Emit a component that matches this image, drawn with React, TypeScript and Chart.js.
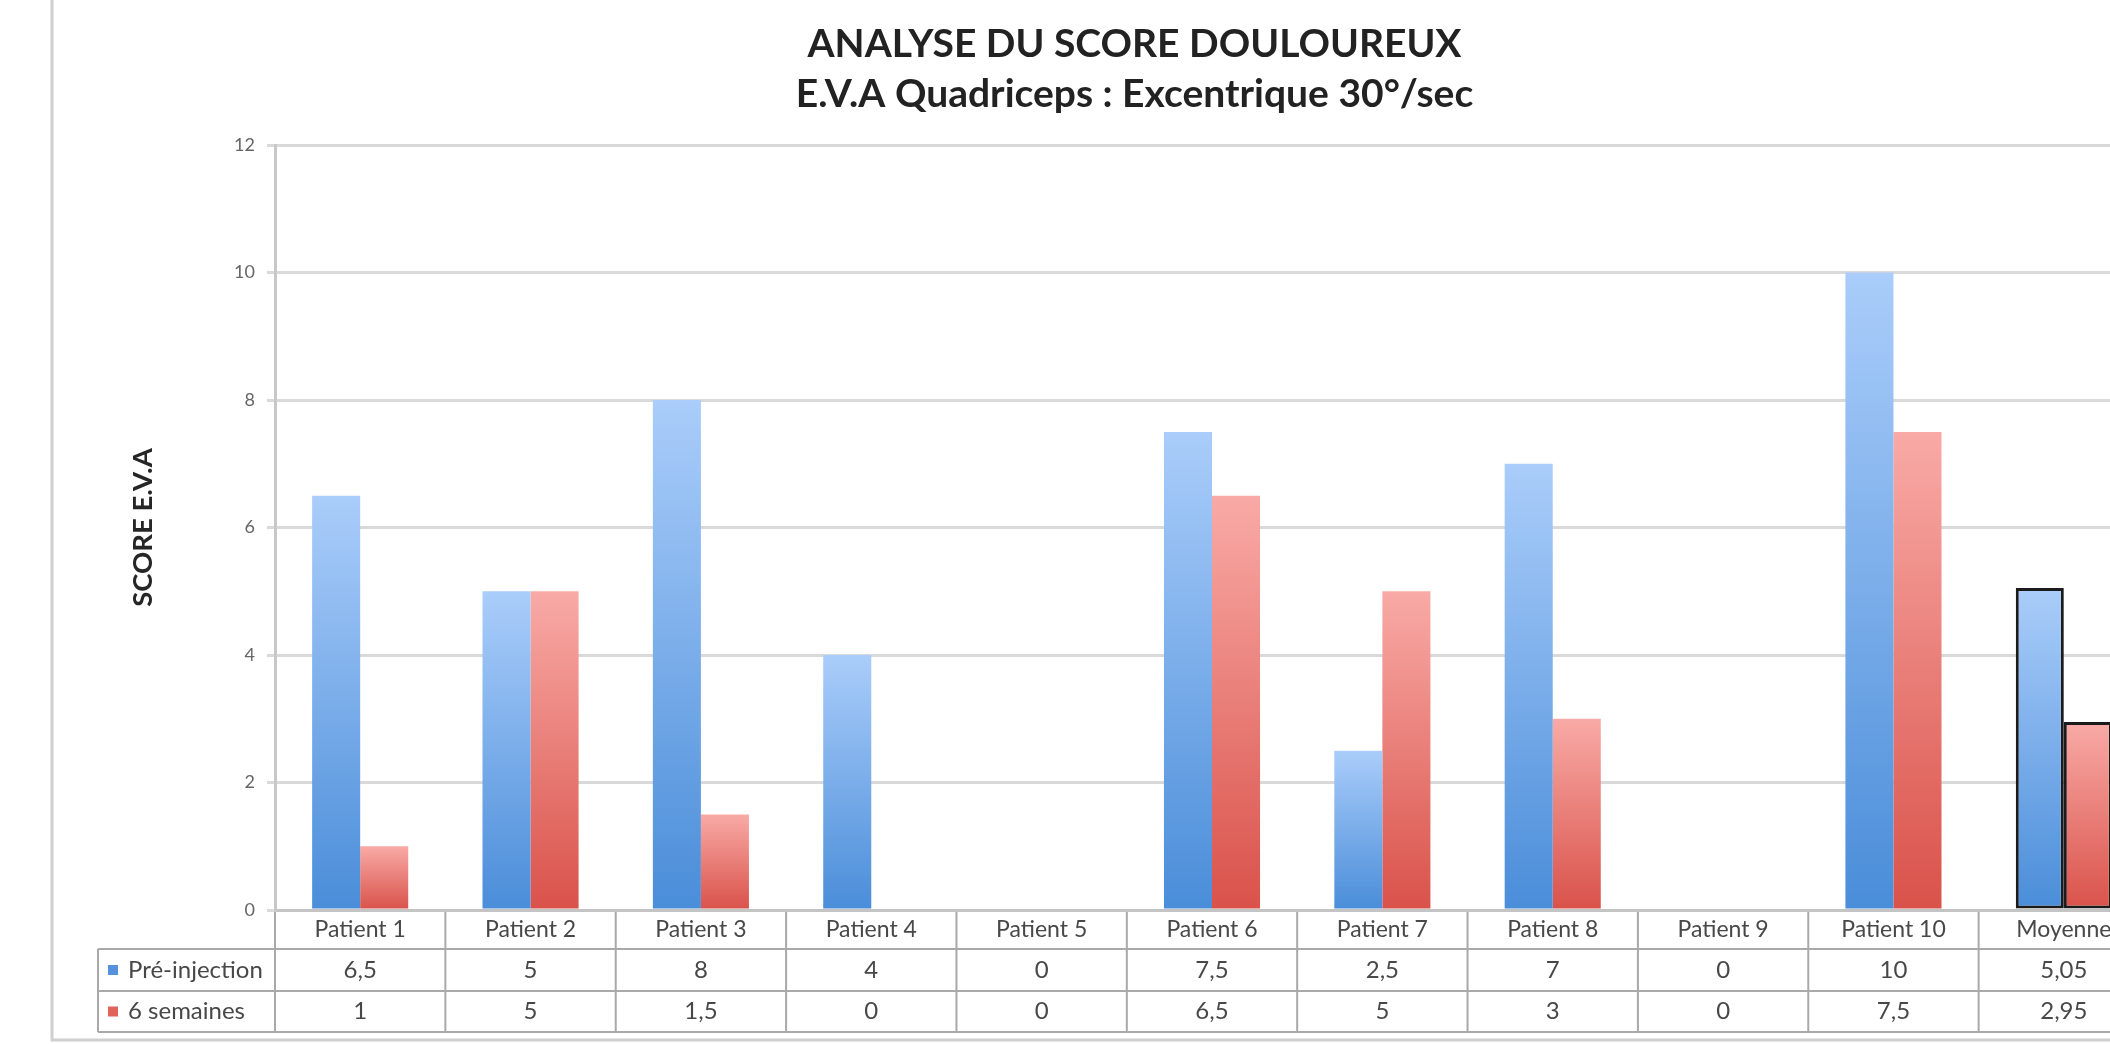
import React, { useEffect, useRef } from 'react';
import { Chart, registerables } from 'chart.js';

Chart.register(...registerables);

const categories = [
  'Patient 1', 'Patient 2', 'Patient 3', 'Patient 4', 'Patient 5', 'Patient 6',
  'Patient 7', 'Patient 8', 'Patient 9', 'Patient 10', 'Moyenne',
];
const preInjection = [6.5, 5, 8, 4, 0, 7.5, 2.5, 7, 0, 10, 5.05];
const sixSemaines = [1, 5, 1.5, 0, 0, 6.5, 5, 3, 0, 7.5, 2.95];
const seriesLabels = ['Pré-injection', '6 semaines'];
const titleLines = ['ANALYSE DU SCORE DOULOUREUX', 'E.V.A Quadriceps : Excentrique 30°/sec'];
const yAxisTitle = 'SCORE E.V.A';
const yMin = 0;
const yMax = 12;
const yStep = 2;
const highlightIndex = 10;

const CANVAS_W = 2269;
const CANVAS_H = 1044;
const FONT = 'Lato, "Open Sans", sans-serif';

const BLUE_TOP = '#AACDFA';
const BLUE_BOTTOM = '#4A8DD9';
const RED_TOP = '#F9AAA6';
const RED_BOTTOM = '#D9524A';

function gradientFill(top: string, bottom: string, fallback: string) {
  return (ctx: any) => {
    const chart = ctx.chart;
    if (ctx.type !== 'data' || !chart.chartArea) return fallback;
    const ys = chart.scales.y;
    const v = ctx.raw as number;
    const pTop = ys.getPixelForValue(v);
    const pBase = ys.getPixelForValue(0);
    if (!isFinite(pTop) || Math.abs(pBase - pTop) < 1) return fallback;
    const g = chart.ctx.createLinearGradient(0, pTop, 0, pBase);
    g.addColorStop(0, top);
    g.addColorStop(1, bottom);
    return g;
  };
}

const fmt = (v: number) => String(v).replace('.', ',');

const tablePlugin = {
  id: 'excelFrameTable',
  beforeDraw(chart: any) {
    const c = chart.ctx;
    c.save();
    c.fillStyle = '#ffffff';
    c.fillRect(0, 0, chart.width, chart.height);
    c.strokeStyle = '#cfcfcf';
    c.lineWidth = 3;
    c.strokeRect(52, -20, 2165, 1060);
    c.restore();
  },
  afterDraw(chart: any) {
    const c = chart.ctx;
    const xs = chart.scales.x;
    const area = chart.chartArea;
    const n = categories.length;
    const step = xs.getPixelForValue(1) - xs.getPixelForValue(0);
    const axisY = area.bottom;
    const r1 = axisY + 39;
    const r2 = r1 + 42;
    const r3 = r2 + 41;
    const legendLeft = 98;
    c.save();
    c.strokeStyle = '#a9a9a9';
    c.lineWidth = 2;
    c.beginPath();
    [r1, r2, r3].forEach((y) => {
      c.moveTo(legendLeft, y);
      c.lineTo(xs.right, y);
    });
    c.moveTo(legendLeft, r1);
    c.lineTo(legendLeft, r3);
    for (let i = 0; i <= n; i++) {
      const bx = xs.getPixelForValue(0) - step / 2 + i * step;
      c.moveTo(bx, axisY + 2);
      c.lineTo(bx, r3);
    }
    c.stroke();

    c.font = `24px ${FONT}`;
    c.textBaseline = 'middle';
    const rows = [
      { label: seriesLabels[0], data: preInjection, color: '#5692DB', cy: (r1 + r2) / 2 },
      { label: seriesLabels[1], data: sixSemaines, color: '#E0645C', cy: (r2 + r3) / 2 },
    ];
    rows.forEach((row) => {
      c.fillStyle = row.color;
      c.fillRect(legendLeft + 10, row.cy - 5, 10, 10);
      c.fillStyle = '#484848';
      c.textAlign = 'left';
      c.fillText(row.label, legendLeft + 30, row.cy);
      c.textAlign = 'center';
      row.data.forEach((v, i) => {
        c.fillText(fmt(v), xs.getPixelForValue(i), row.cy);
      });
    });
    c.restore();
  },
};

export default function App() {
  const ref = useRef<HTMLCanvasElement | null>(null);
  useEffect(() => {
    if (!ref.current) return;
    const chart = new Chart(ref.current, {
      type: 'bar',
      data: {
        labels: categories,
        datasets: [
          {
            label: seriesLabels[0],
            data: preInjection,
            backgroundColor: gradientFill(BLUE_TOP, BLUE_BOTTOM, '#6FA6E8'),
            borderColor: '#1b1b1b',
            borderWidth: (ctx: any) => (ctx.dataIndex === highlightIndex ? 3 : 0),
            borderSkipped: false,
            categoryPercentage: 0.564,
            barPercentage: 1.0,
          },
          {
            label: seriesLabels[1],
            data: sixSemaines,
            backgroundColor: gradientFill(RED_TOP, RED_BOTTOM, '#EC7C75'),
            borderColor: '#1b1b1b',
            borderWidth: (ctx: any) => (ctx.dataIndex === highlightIndex ? 3 : 0),
            borderSkipped: false,
            categoryPercentage: 0.564,
            barPercentage: 1.0,
          },
        ],
      },
      options: {
        responsive: false,
        animation: false,
        devicePixelRatio: 1,
        layout: { padding: { left: 120, right: 120, top: 0, bottom: 0 } },
        plugins: {
          legend: { display: false },
          tooltip: { enabled: false },
          title: {
            display: true,
            text: titleLines,
            color: '#222222',
            font: { family: FONT, size: 39, weight: 'bold', lineHeight: 50 / 39 },
            padding: { top: 19, bottom: 26 },
          },
        },
        scales: {
          x: {
            offset: true,
            grid: { display: false, drawTicks: false },
            border: { display: true, color: '#c4c4c4', width: 3 },
            ticks: {
              color: '#484848',
              font: { family: FONT, size: 23 },
              padding: 6,
              maxRotation: 0,
              autoSkip: false,
            },
            afterFit: (s: any) => { s.height = 134; },
          },
          y: {
            min: yMin,
            max: yMax,
            ticks: {
              stepSize: yStep,
              color: '#666666',
              font: { family: FONT, size: 18 },
              padding: 12,
            },
            grid: { color: '#d9d9d9', lineWidth: 3, tickLength: 8, drawTicks: true },
            border: { display: true, color: '#c8c8c8', width: 3 },
            title: {
              display: true,
              text: yAxisTitle,
              color: '#262626',
              font: { family: FONT, size: 27.5, weight: 'bold', lineHeight: 1.2 },
              padding: { top: 6.5, bottom: 0 },
            },
            afterFit: (s: any) => { s.width = 155; },
          },
        },
      },
      plugins: [tablePlugin],
    });
    return () => chart.destroy();
  }, []);

  return (
    <div style={{ position: 'fixed', left: 0, top: 0, width: '100vw', height: '100vh', overflow: 'hidden', background: '#fff' }}>
      <canvas
        ref={ref}
        width={CANVAS_W}
        height={CANVAS_H}
        style={{ position: 'absolute', left: 0, top: 0, width: CANVAS_W, height: CANVAS_H, display: 'block' }}
      />
    </div>
  );
}
